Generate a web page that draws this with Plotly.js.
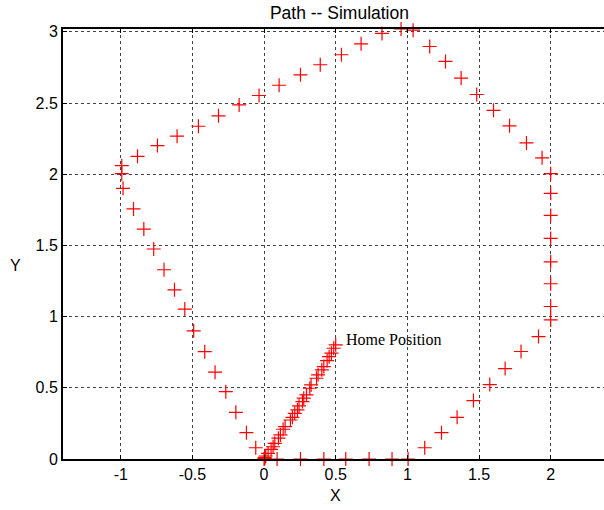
<!DOCTYPE html>
<html>
<head>
<meta charset="utf-8">
<script src="https://cdn.plot.ly/plotly-3.0.1.min.js"></script>
<style>html,body{margin:0;padding:0;background:#fff;}#chart{width:604px;height:510px;}</style>
</head>
<body>
<div id="chart"></div>
<script>
// Diagonal from home position to origin
const diagX = [0.500,0.486,0.470,0.454,0.440,0.417,0.403,0.377,0.366,0.328,0.319,0.296,0.277,0.268,0.244,0.233,0.214,0.198,0.184,0.147,0.133,0.114,0.100,0.075,0.063,0.049,0.028,0.012,0.005,0.000];
const diagY = [0.802,0.778,0.743,0.719,0.691,0.649,0.626,0.591,0.567,0.520,0.497,0.450,0.427,0.403,0.373,0.345,0.321,0.293,0.274,0.227,0.209,0.169,0.146,0.110,0.086,0.068,0.040,0.021,0.005,0.000];
// Along the x axis
const baseX = [0.091,0.254,0.417,0.570,0.733,0.893,1.005];
const baseY = [0,0,0,0,0,0,0];
// Lower right arc
const lowArcX = [1.121,1.238,1.347,1.461,1.575,1.682,1.793,1.915,2.000];
const lowArcY = [0.079,0.185,0.293,0.410,0.523,0.635,0.755,0.860,0.977];
// Right vertical side
const rightX = [2,2,2,2,2,2,2];
const rightY = [1.071,1.231,1.385,1.549,1.711,1.866,2.004];
// Upper arc (right to left)
const topArcX = [1.940,1.831,1.713,1.601,1.484,1.375,1.266,1.156,1.040,0.956,0.823,0.677,0.540,0.392,0.254,0.105,-0.035,-0.174,-0.318,-0.458,-0.607,-0.744,-0.883];
const topArcY = [2.115,2.220,2.340,2.449,2.560,2.675,2.792,2.897,3.012,3.020,2.989,2.916,2.839,2.769,2.698,2.625,2.553,2.487,2.410,2.337,2.267,2.201,2.126];
// Left side back down to origin
const leftX = [-0.993,-0.993,-0.984,-0.911,-0.839,-0.770,-0.698,-0.625,-0.553,-0.491,-0.414,-0.342,-0.267,-0.197,-0.123,-0.058,0.005];
const leftY = [2.060,2.004,1.901,1.756,1.615,1.475,1.329,1.188,1.053,0.900,0.754,0.610,0.473,0.328,0.185,0.079,0.012];

const xTickVals = [-1,-0.5,0,0.5,1,1.5,2];
const xTickText = ['-1','-0.5','0','0.5','1','1.5','2'];
const yTickVals = [0,0.5,1,1.5,2,2.5,3];
const yTickText = ['0','0.5','1','1.5','2','2.5','3'];

const homeLabel = 'Home Position';
const homeLabelPos = [0.56, 0.837];

const pathX = [].concat(diagX, baseX, lowArcX, rightX, topArcX, leftX);
const pathY = [].concat(diagY, baseY, lowArcY, rightY, topArcY, leftY);

const trace = {
  x: pathX, y: pathY, type: 'scatter', mode: 'markers', cliponaxis: false,
  marker: {symbol: 'cross-thin', size: 10, color: '#ff0000', line: {color: '#ff0000', width: 1.2}},
  hoverinfo: 'skip'
};

const axisCommon = {
  showline: true, linecolor: '#000', linewidth: 2,
  showgrid: true, gridcolor: '#444', griddash: 'dot', gridwidth: 1,
  zeroline: false, ticks: 'inside', ticklen: 4, tickcolor: '#000', tickwidth: 1,
  tickfont: {family: 'Liberation Sans, Arial, sans-serif', size: 16, color: '#000'},
  tickmode: 'array', fixedrange: true
};

const layout = {
  width: 604, height: 510,
  margin: {l: 63, r: 0, t: 29, b: 51},
  paper_bgcolor: '#fff', plot_bgcolor: '#fff',
  showlegend: false,
  title: {text: 'Path -- Simulation', font: {family: 'Liberation Sans, Arial, sans-serif', size: 17.5, color: '#000'},
          x: 0.511, xref: 'paper', xanchor: 'center', y: 0.974, yref: 'container', yanchor: 'middle'},
  xaxis: Object.assign({}, axisCommon, {range: [-1.403, 2.372], tickvals: xTickVals, ticktext: xTickText, mirror: 'ticks'}),
  yaxis: Object.assign({}, axisCommon, {range: [0, 3.02], tickvals: yTickVals, ticktext: yTickText, mirror: false}),
  annotations: [
    {text: homeLabel, x: homeLabelPos[0], y: homeLabelPos[1], xref: 'x', yref: 'y', xanchor: 'left', yanchor: 'middle',
     showarrow: false, font: {family: 'Liberation Serif, Times New Roman, serif', size: 16, color: '#000'}},
    {text: 'X', x: 0.503, y: -0.084, xref: 'paper', yref: 'paper', xanchor: 'center', yanchor: 'middle', showarrow: false,
     font: {family: 'Liberation Sans, Arial, sans-serif', size: 16, color: '#000'}},
    {text: 'Y', x: -0.087, y: 0.451, xref: 'paper', yref: 'paper', xanchor: 'center', yanchor: 'middle', showarrow: false,
     font: {family: 'Liberation Sans, Arial, sans-serif', size: 16, color: '#000'}}
  ]
};

Plotly.newPlot('chart', [trace], layout, {staticPlot: true, displayModeBar: false});
</script>
</body>
</html>
